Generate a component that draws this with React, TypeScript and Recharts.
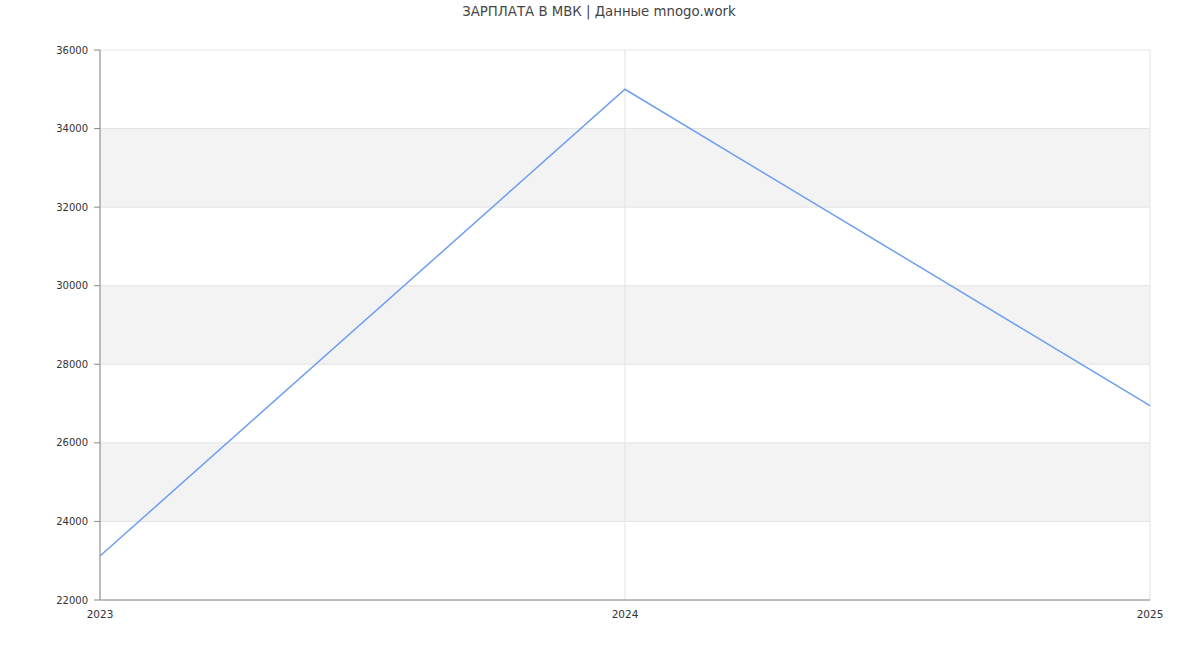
import { LineChart, Line, XAxis, YAxis, CartesianGrid } from "recharts";

const years = [2023, 2024, 2025];
const salary = [23120, 35000, 26950];
const yTicks = [22000, 24000, 26000, 28000, 30000, 32000, 34000, 36000];

const data = years.map((year, i) => ({ year, salary: salary[i] }));

const FONT = "'DejaVu Sans', sans-serif";

export default function App() {
  return (
    <div
      style={{
        position: "absolute",
        left: 0,
        top: 0,
        width: 1200,
        height: 650,
        background: "#fff",
        fontFamily: FONT,
      }}
    >
      <div
        style={{
          position: "absolute",
          top: 4,
          left: 0,
          width: 1198,
          textAlign: "center",
          fontSize: 13.3,
          color: "#444",
        }}
      >
        ЗАРПЛАТА В МВК | Данные mnogo.work
      </div>
      <LineChart
        width={1200}
        height={650}
        data={data}
        margin={{ top: 50, right: 50, left: 40, bottom: 20 }}
      >
        <CartesianGrid
          stroke="#e3e3e3"
          horizontalFill={["#ffffff", "#f3f3f3"]}
          fillOpacity={1}
        />
        <XAxis
          dataKey="year"
          type="number"
          domain={[2023, 2025]}
          ticks={years}
          height={30}
          axisLine={{ stroke: "#888" }}
          tickLine={false}
          tick={{ fontSize: 10.5, fill: "#333", fontFamily: FONT }}
          tickMargin={5}
        />
        <YAxis
          type="number"
          domain={[22000, 36000]}
          ticks={yTicks}
          width={60}
          interval={0}
          axisLine={{ stroke: "#888" }}
          tickLine={{ stroke: "#888" }}
          tickSize={6}
          tickMargin={6}
          tick={{ fontSize: 10, fill: "#333", fontFamily: FONT }}
        />
        <Line
          dataKey="salary"
          stroke="#6e9eef"
          strokeWidth={1.5}
          dot={false}
          activeDot={false}
          isAnimationActive={false}
        />
      </LineChart>
    </div>
  );
}
